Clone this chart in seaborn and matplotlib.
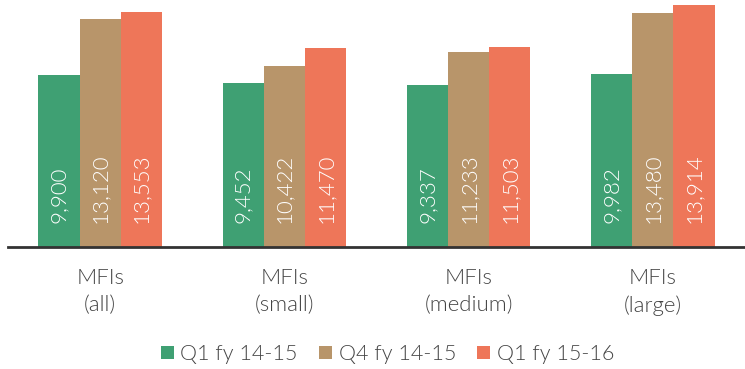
import matplotlib
matplotlib.use("Agg")
import matplotlib.pyplot as plt
import pandas as pd
import seaborn as sns

groups = ["MFIs\n(all)", "MFIs\n(small)", "MFIs\n(medium)", "MFIs\n(large)"]
periods = ["Q1 fy 14-15", "Q4 fy 14-15", "Q1 fy 15-16"]
q1_1415 = [9900, 9452, 9337, 9982]
q4_1415 = [13120, 10422, 11233, 13480]
q1_1516 = [13553, 11470, 11503, 13914]
colors = ["#3fa073", "#b8956a", "#ee7659"]

df = pd.DataFrame({
    "group": groups * 3,
    "period": [p for p in periods for _ in groups],
    "value": q1_1415 + q4_1415 + q1_1516,
})

sns.set_theme(style="white")
plt.rcParams["font.family"] = ["Lato", "DejaVu Sans"]
plt.rcParams["font.weight"] = 300

fig = plt.figure(figsize=(7.45, 3.69), dpi=100)
ax = fig.add_axes([8 / 745, 122 / 369, 737 / 745, 247 / 369])
sns.barplot(data=df, x="group", y="value", hue="period", palette=colors,
            width=0.67, gap=0, saturation=1, ax=ax, linewidth=0)

for container in ax.containers:
    for bar in container:
        h = bar.get_height()
        ax.annotate(f"{h:,.0f}", (bar.get_x() + bar.get_width() / 2, 0),
                    xytext=(0, 17), textcoords="offset points",
                    rotation=90, ha="center", va="bottom",
                    color="white", fontsize=16, fontweight=300)

ax.set_ylim(0, 14220)
ax.set_xlim(-0.5, 3.5)
ax.set_xlabel("")
ax.set_ylabel("")
ax.set_yticks([])
sns.despine(ax=ax, left=True)
ax.spines["bottom"].set_color("#333333")
ax.spines["bottom"].set_linewidth(2)
ax.tick_params(axis="x", length=0, pad=15, labelsize=16, labelcolor="#444444")
for lbl in ax.get_xticklabels():
    lbl.set_fontweight(300)
    lbl.set_linespacing(1.45)

ax.legend(loc="upper center", bbox_to_anchor=(0.515, -0.315), ncol=3, frameon=False,
          handlelength=0.6, handleheight=0.6, handletextpad=0.3,
          columnspacing=1.0, labelcolor="#444444", prop={"weight": 300, "size": 15.5})

fig.savefig("out.png", dpi=100)
